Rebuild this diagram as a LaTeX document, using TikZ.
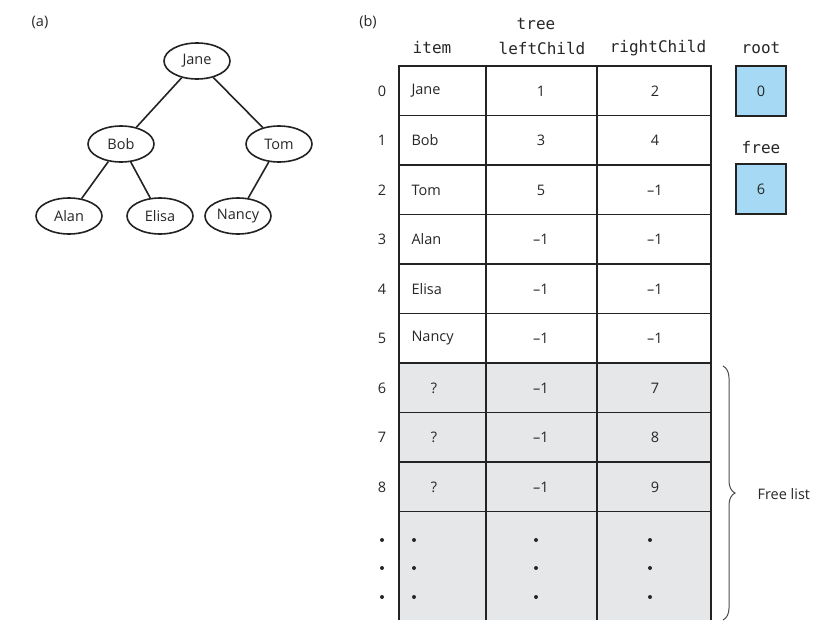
\documentclass[tikz,border=0pt]{standalone}
\usepackage{fontspec}
\setmainfont{Open Sans}
\setmonofont{DejaVu Sans Mono}
\usetikzlibrary{shapes.geometric,decorations.pathreplacing}

\definecolor{gridline}{RGB}{35,35,35}
\definecolor{freegray}{RGB}{230,231,232}
\definecolor{varblue}{RGB}{166,218,244}

\begin{document}
\begin{tikzpicture}[x=1pt,y=-1pt,
  every node/.style={font=\fontsize{14.5}{17}\selectfont,text=black!85},
  treenode/.style={ellipse,draw=gridline,line width=1.6pt,minimum width=66pt,minimum height=36pt,inner sep=0pt},
  treeedge/.style={draw=gridline,line width=1.6pt},
  header/.style={font=\ttfamily\fontsize{16}{18}\selectfont},
  rule/.style={draw=gridline,line width=1.8pt},
  varbox/.style={draw=gridline,line width=1.5pt,fill=varblue,minimum width=50pt,minimum height=50pt,inner sep=0pt},
  dot/.style={circle,fill=black!85,inner sep=0pt,minimum size=4pt}
]
\useasboundingbox (0,0) rectangle (824,632);

% ---------- (a) the tree ----------
\node (lbla) at (40,22) {(a)};
\node[treenode] (jane)  at (197,61)  {Jane};
\node[treenode] (bob)   at (121,144) {Bob};
\node[treenode] (tom)   at (279,144) {Tom};
\node[treenode] (alan)  at (69,216)  {Alan};
\node[treenode] (elisa) at (160,216) {Elisa};
\node[treenode] (nancy) at (238,216) {Nancy};
\draw[treeedge] (jane) -- (bob);
\draw[treeedge] (jane) -- (tom);
\draw[treeedge] (bob) -- (alan);
\draw[treeedge] (bob) -- (elisa);
\draw[treeedge] (tom) -- (nancy);

% ---------- (b) the array ----------
\node (lblb) at (368,22) {(b)};
\node[header] (htree)  at (536,24) {tree};
\node[header] (hitem)  at (432,48) {item};
\node[header] (hleft)  at (542,48) {leftChild};
\node[header] (hright) at (658,48) {rightChild};

% free rows shaded
\fill[freegray] (399,363) rectangle (711,620);

% grid
\foreach \x in {399,486,597,711}
  \draw[rule] (\x,66) -- (\x,620);
\foreach \i in {0,...,9}
  \draw[rule] (399-0.9,66+49.5*\i) -- (711+0.9,66+49.5*\i);

% table rows: index / item / leftChild / rightChild
\foreach \i/\it/\l/\r in {0/Jane/1/2,1/Bob/3/4,2/Tom/5/–1,3/Alan/–1/–1,
                          4/Elisa/–1/–1,5/Nancy/–1/–1}{
  \node (idx\i)   at (382,91+49.5*\i) {\i};
  \node[anchor=west] (item\i) at (408,91+49.5*\i) {\it};
  \node (left\i)  at (541,91+49.5*\i) {\l};
  \node (right\i) at (655,91+49.5*\i) {\r};
}
\foreach \i/\l/\r in {6/–1/7,7/–1/8,8/–1/9}{
  \node (idx\i)   at (382,91+49.5*\i) {\i};
  \node (item\i)  at (434,91+49.5*\i) {?};
  \node (left\i)  at (541,91+49.5*\i) {\l};
  \node (right\i) at (655,91+49.5*\i) {\r};
}

% continuation dots
\foreach \y in {540,568,597}
  \foreach \x in {382,414,536,650}
    \node[dot] at (\x,\y) {};

% root and free variables
\node[header] (hroot) at (761,48) {root};
\node[varbox] (root) at (761,91) {0};
\node[header] (hfree) at (761,148) {free};
\node[varbox] (free) at (761,189) {6};

% free list brace
\coordinate (bracetop) at (723,366);
\coordinate (bracebot) at (723,620);
\draw[draw=black!70,line width=1pt,decorate,decoration={brace,amplitude=12pt}]
  (bracetop) -- (bracebot);
\node[anchor=west] (freelist) at (754,494) {Free list};
\end{tikzpicture}
\end{document}
